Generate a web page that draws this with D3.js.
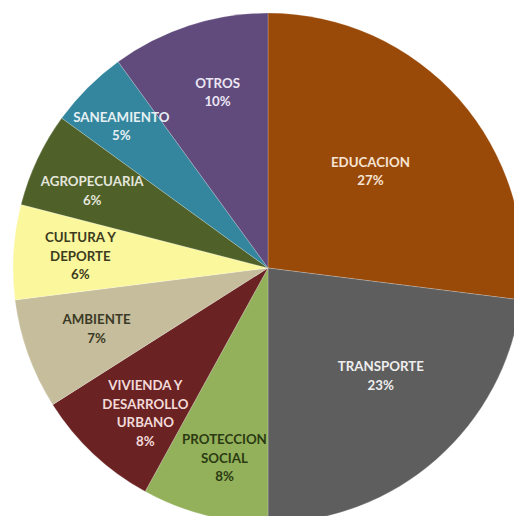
<!DOCTYPE html>
<html><head><meta charset="utf-8">
<script src="https://cdn.jsdelivr.net/npm/d3@7"></script>
<style>
html,body{margin:0;padding:0;background:#fff;overflow:hidden;}
svg{display:block;}
</style></head>
<body>
<svg id="c" width="514" height="516"></svg>
<script>
const categories = ["EDUCACION","TRANSPORTE","PROTECCION SOCIAL","VIVIENDA Y DESARROLLO URBANO","AMBIENTE","CULTURA Y DEPORTE","AGROPECUARIA","SANEAMIENTO","OTROS"];
const values = [27, 23, 8, 8, 7, 6, 6, 5, 10];
const labelLines = [["EDUCACION"],["TRANSPORTE"],["PROTECCION","SOCIAL"],["VIVIENDA Y","DESARROLLO","URBANO"],["AMBIENTE"],["CULTURA Y","DEPORTE"],["AGROPECUARIA"],["SANEAMIENTO"],["OTROS"]];
const percentLabels = ["27%","23%","8%","8%","7%","6%","6%","5%","10%"];

const colors = ["#9a4a08","#5e5e5e","#93b15a","#6a2222","#c5bd9b","#fbf79c","#4f6128","#33869d","#604b7c"];
const textColors = ["#f6e4d4","#eeeeee","#2b3a12","#f2dada","#3b3a26","#3c3b1e","#e4e6dc","#e6f0f4","#ece6f4"];
// label placement (style): radius and angle nudge (degrees)
const labelR = [141,156,195,190,182,188,192,204,183];
const labelDA = [-2,-4.9,-1.5,-3,0.2,0,-1.5,-1,2];

const cx = 268, cy = 268, R = 255;
const svg = d3.select("#c");
const g = svg.append("g").attr("transform",`translate(${cx},${cy})`);

const pie = d3.pie().sort(null).value(d=>d).startAngle(0).endAngle(2*Math.PI);
const arcs = pie(values);
const arc = d3.arc().innerRadius(0).outerRadius(R);

g.selectAll("path.slice").data(arcs).enter().append("path")
  .attr("class","slice")
  .attr("d",arc)
  .attr("fill",(d,i)=>colors[i])
  .attr("stroke","rgba(255,255,255,0.35)")
  .attr("stroke-width",0.6);

const lineH = 18.5;
arcs.forEach((d,i)=>{
  const a = (d.startAngle+d.endAngle)/2 + labelDA[i]*Math.PI/180;
  const x = Math.sin(a)*labelR[i];
  const y = -Math.cos(a)*labelR[i];
  const lines = labelLines[i].concat([percentLabels[i]]);
  const y0 = y - (lines.length-1)*lineH/2;
  const t = g.append("text")
    .attr("text-anchor","middle")
    .attr("font-family","Lato, 'Open Sans', sans-serif")
    .attr("font-size","13.3px")
    .attr("font-weight","bold")
    .attr("fill",textColors[i]);
  lines.forEach((ln,k)=>{
    t.append("tspan").attr("x",x).attr("y",y0+k*lineH).attr("dy","0.35em").text(ln);
  });
});
</script>
</body></html>
